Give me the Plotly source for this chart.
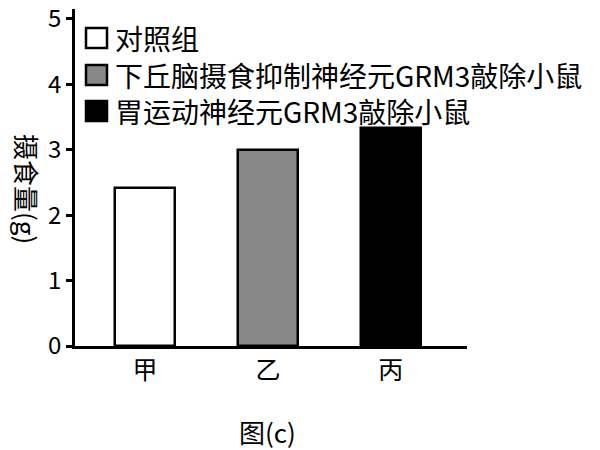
import plotly.graph_objects as go

categories = ["甲", "乙", "丙"]
values = [2.42, 3.0, 3.33]
colors = ["#ffffff", "#888888", "#000000"]
legend_labels = ["对照组", "下丘脑摄食抑制神经元GRM3敲除小鼠", "胃运动神经元GRM3敲除小鼠"]
y_ticks = [0, 1, 2, 3, 4, 5]

FONT = "Noto Sans CJK SC"
W, H = 600, 450
# plot area in reference-image pixels
PX0, PX1, PY0, PY1 = 75, 467, 9, 346
L, R = PX0, W - PX1
T, B = PY0, H - PY1

fig = go.Figure()
fig.add_trace(go.Bar(
    x=categories, y=values, width=0.49,
    marker=dict(color=colors, line=dict(color="#000000", width=2.5)),
    showlegend=False,
))

def px_to_paper_x(px):
    return (px - PX0) / (PX1 - PX0)

def px_to_paper_y(py):
    return (PY1 - py) / (PY1 - PY0)

shapes = []
annotations = []
row_centers = [38, 75, 111]
for lab, col, yc in zip(legend_labels, colors, row_centers):
    shapes.append(dict(type="rect", xref="paper", yref="paper",
                       x0=px_to_paper_x(86), x1=px_to_paper_x(107),
                       y0=px_to_paper_y(yc + 10), y1=px_to_paper_y(yc - 10),
                       fillcolor=col, line=dict(color="#000000", width=2.5)))
    annotations.append(dict(xref="paper", yref="paper",
                            x=px_to_paper_x(113), y=px_to_paper_y(yc),
                            text=lab, showarrow=False, xanchor="left", yanchor="middle",
                            font=dict(family=FONT, size=28, color="#000000")))

annotations.append(dict(xref="paper", yref="paper",
                        x=px_to_paper_x(28), y=px_to_paper_y(189),
                        text="摄食量(g)", showarrow=False, textangle=90,
                        xanchor="center", yanchor="middle",
                        font=dict(family=FONT, size=26, color="#000000")))
annotations.append(dict(xref="paper", yref="paper",
                        x=px_to_paper_x(267), y=px_to_paper_y(431),
                        text="图(c)", showarrow=False,
                        xanchor="center", yanchor="middle",
                        font=dict(family=FONT, size=26, color="#000000")))

fig.update_layout(
    width=W, height=H,
    margin=dict(l=L, r=R, t=T, b=B, pad=0, autoexpand=False),
    plot_bgcolor="#ffffff", paper_bgcolor="#ffffff",
    font=dict(family=FONT, color="#000000"),
    shapes=shapes, annotations=annotations,
    xaxis=dict(range=[-0.57, 2.62], showline=True, linecolor="#000000", linewidth=2.5,
               ticks="", showgrid=False, zeroline=False, automargin=False,
               tickfont=dict(family=FONT, size=25, color="#000000")),
    yaxis=dict(range=[0, 5.15], tickvals=y_ticks, showline=True, linecolor="#000000",
               linewidth=2.5, ticks="outside", ticklen=6, tickwidth=2.5, tickcolor="#000000",
               showgrid=False, zeroline=False, ticklabeloverflow="allow", automargin=False,
               tickfont=dict(family=FONT, size=24, color="#000000")),
    bargap=0,
)

fig.write_html("out.html", config={"displayModeBar": False},
               post_script="document.body.style.margin='0';document.body.style.overflow='hidden';")
